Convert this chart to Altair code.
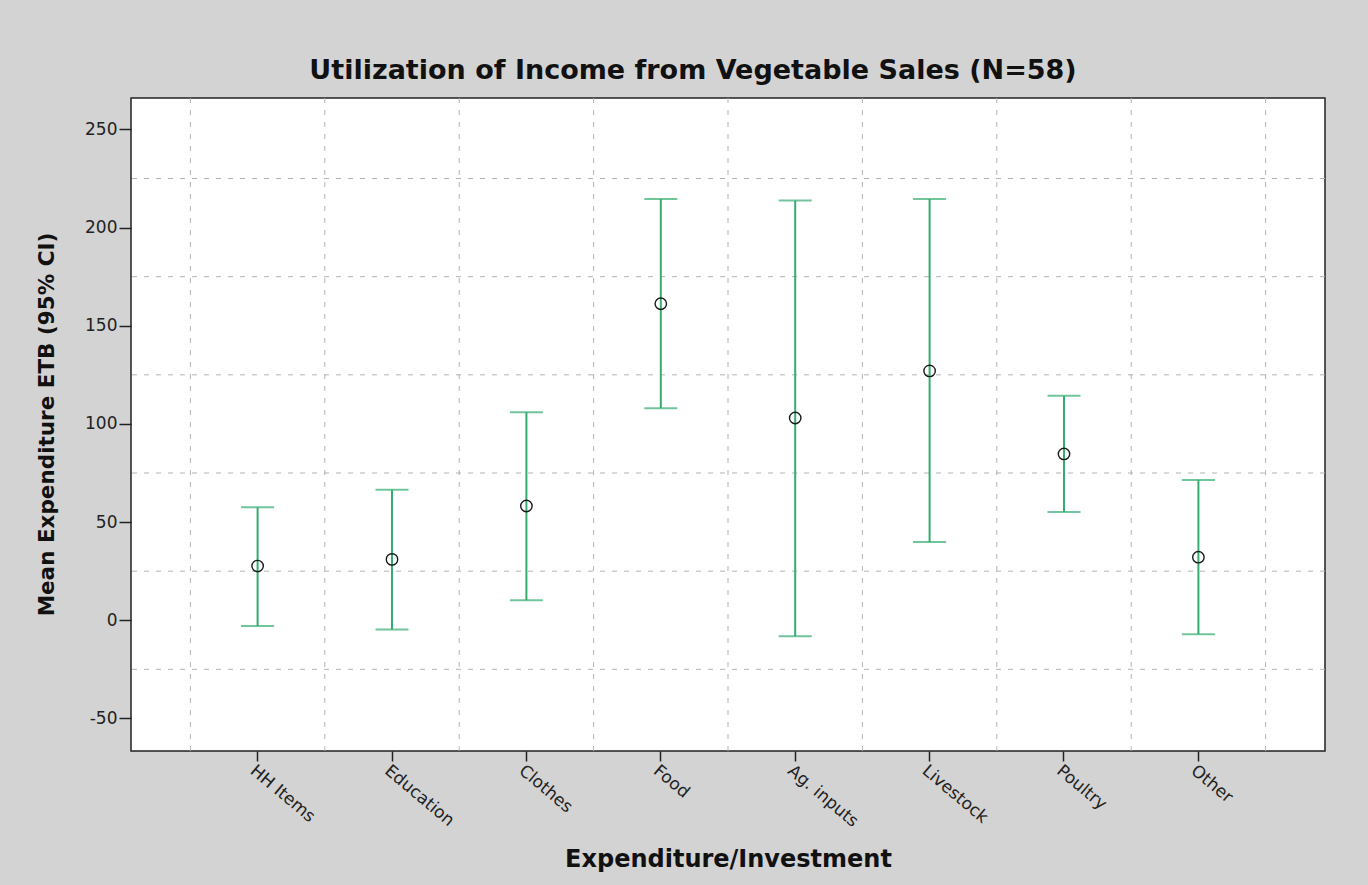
import altair as alt
import pandas as pd

# Mean expenditure per category with 95% confidence interval bounds (ETB)
categories = ["HH Items", "Education", "Clothes", "Food", "Ag. inputs", "Livestock", "Poultry", "Other"]
means = [27.6, 31.0, 58.2, 161.2, 103.0, 127.0, 84.7, 32.1]
lower = [-2.9, -4.7, 10.2, 108.0, -8.2, 39.8, 55.1, -7.1]
upper = [57.5, 66.5, 106.0, 214.6, 213.8, 214.6, 114.3, 71.4]

y_ticks = [-50, 0, 50, 100, 150, 200, 250]
y_grid = [-25, 25, 75, 125, 175, 225]

df = pd.DataFrame({"category": categories, "mean": means, "lower": lower, "upper": upper})
grid_x = pd.DataFrame({"category": categories})
grid_x_last = pd.DataFrame({"category": categories[-1:]})
grid_y = pd.DataFrame({"v": y_grid})

FONT = "DejaVu Sans"
GREEN = "#35ad70"
GRID = "#b3b3b3"
DASH = [5, 7]

x_scale = alt.Scale(type="band", domain=categories, paddingInner=0, paddingOuter=0.442)
y_scale = alt.Scale(domain=[-66.6, 266], nice=False, zero=False)

x_axis = alt.Axis(
    title="Expenditure/Investment", grid=False, domain=False,
    tickSize=10, tickColor="#222", tickWidth=1.5,
    labelAngle=40, labelAlign="left", labelBaseline="top", labelPadding=1,
    labelFont=FONT, labelFontSize=17, labelColor="#222", labelLimit=300,
    titleFont=FONT, titleFontSize=24, titleFontWeight="bold", titleColor="#111",
    titleX=597, titleY=108, titleBaseline="middle", titleAlign="center",
)
y_axis = alt.Axis(
    title="Mean Expenditure ETB (95% CI)", values=y_ticks, grid=False, domain=False,
    tickSize=12, tickColor="#222", tickWidth=1.5,
    labelExpr="datum.value",
    labelFont=FONT, labelFontSize=17, labelColor="#222", labelPadding=2,
    titleFont=FONT, titleFontSize=21.5, titleFontWeight="bold", titleColor="#111",
    titleX=-84, titleY=326, titleAngle=-90, titleBaseline="middle", titleAlign="center",
)

X = lambda field, **kw: alt.X(field, scale=x_scale, axis=x_axis, **kw)
Y = lambda field: alt.Y(field, scale=y_scale, axis=y_axis)

# dashed gridlines: horizontal at the in-between values, vertical between categories
hgrid = alt.Chart(grid_y).mark_rule(color=GRID, strokeDash=DASH, strokeWidth=1).encode(y=Y("v:Q"))
vgrid = alt.Chart(grid_x).mark_rule(color=GRID, strokeDash=DASH, strokeWidth=1).encode(
    x=X("category:N", bandPosition=0)
)
vgrid_end = alt.Chart(grid_x_last).mark_rule(color=GRID, strokeDash=DASH, strokeWidth=1).encode(
    x=X("category:N", bandPosition=1)
)

base = alt.Chart(df)
bars = base.mark_rule(color=GREEN, strokeWidth=2).encode(
    x=X("category:N"), y=Y("lower:Q"), y2="upper:Q",
)
cap_hi = base.mark_tick(color=GREEN, size=33, thickness=2).encode(x=X("category:N"), y=Y("upper:Q"))
cap_lo = base.mark_tick(color=GREEN, size=33, thickness=2).encode(x=X("category:N"), y=Y("lower:Q"))
points = base.mark_point(shape="circle", filled=False, color="#1a1a1a", size=130, strokeWidth=1.4, opacity=1).encode(
    x=X("category:N"), y=Y("mean:Q"),
)

chart = alt.layer(hgrid, vgrid, vgrid_end, bars, cap_hi, cap_lo, points).properties(
    width=1194,
    height=653,
    autosize=alt.AutoSizeParams(type="none"),
    padding={"left": 131, "top": 98, "right": 43, "bottom": 134},
    background="#d3d3d3",
    title=alt.TitleParams(
        "Utilization of Income from Vegetable Sales (N=58)",
        font=FONT, fontSize=27, fontWeight="bold", color="#111",
        anchor="middle", dx=-35, dy=27, offset=19, baseline="alphabetic",
    ),
).configure_view(fill="white", stroke="#222", strokeWidth=1.5)

chart.save("out.html", embed_options={"renderer": "svg", "actions": False})
